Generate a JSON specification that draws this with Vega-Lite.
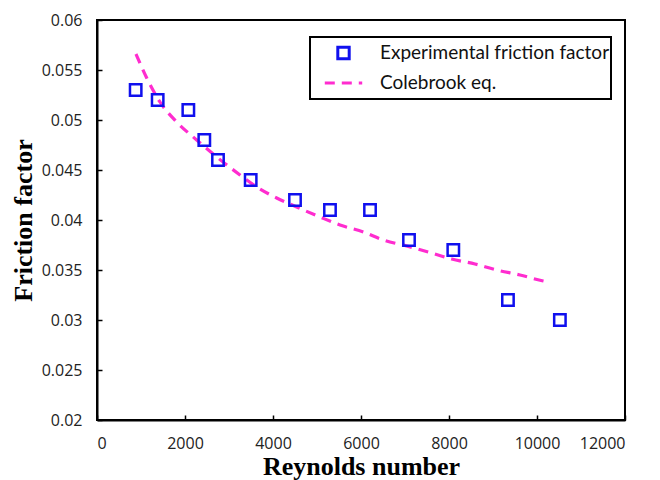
{
  "$schema": "https://vega.github.io/schema/vega-lite/v6.json",
  "width": 528,
  "height": 400,
  "autosize": {"type": "none"},
  "padding": {"left": 97, "top": 20, "right": 35, "bottom": 60},
  "background": "white",
  "config": {
    "view": {"stroke": "black", "strokeWidth": 2},
    "axis": {
      "grid": false,
      "domainColor": "black",
      "domainWidth": 2,
      "tickColor": "black",
      "tickWidth": 1.5,
      "tickSize": -5,
      "labelFont": "Open Sans",
      "labelFontSize": 16,
      "labelColor": "#222",
      "titleFont": "Liberation Serif",
      "titleFontSize": 26,
      "titleFontWeight": "bold",
      "titleColor": "black"
    },
    "legend": {
      "strokeColor": "black",
      "strokeWidth": 2,
      "fillColor": "white",
      "padding": 1,
      "labelFont": "Lato",
      "labelFontSize": 19,
      "labelColor": "#111",
      "labelLimit": 400,
      "rowPadding": 0,
      "symbolStrokeWidth": 3
    }
  },
  "datasets": {
    "exp": [
      {"Re": 879, "f": 0.053, "series": "Experimental friction factor"},
      {"Re": 1379, "f": 0.052, "series": "Experimental friction factor"},
      {"Re": 2076, "f": 0.051, "series": "Experimental friction factor"},
      {"Re": 2439, "f": 0.048, "series": "Experimental friction factor"},
      {"Re": 2750, "f": 0.046, "series": "Experimental friction factor"},
      {"Re": 3493, "f": 0.044, "series": "Experimental friction factor"},
      {"Re": 4500, "f": 0.042, "series": "Experimental friction factor"},
      {"Re": 5295, "f": 0.041, "series": "Experimental friction factor"},
      {"Re": 6205, "f": 0.041, "series": "Experimental friction factor"},
      {"Re": 7091, "f": 0.038, "series": "Experimental friction factor"},
      {"Re": 8098, "f": 0.037, "series": "Experimental friction factor"},
      {"Re": 9340, "f": 0.032, "series": "Experimental friction factor"},
      {"Re": 10520, "f": 0.030, "series": "Experimental friction factor"}
    ],
    "cole": [
      {"Re": 886, "f": 0.0566, "series": "Colebrook eq."},
      {"Re": 1130, "f": 0.0542, "series": "Colebrook eq."},
      {"Re": 1432, "f": 0.0518, "series": "Colebrook eq."},
      {"Re": 1811, "f": 0.0498, "series": "Colebrook eq."},
      {"Re": 2266, "f": 0.0480, "series": "Colebrook eq."},
      {"Re": 2750, "f": 0.0462, "series": "Colebrook eq."},
      {"Re": 3250, "f": 0.0445, "series": "Colebrook eq."},
      {"Re": 3629, "f": 0.0433, "series": "Colebrook eq."},
      {"Re": 4084, "f": 0.0422, "series": "Colebrook eq."},
      {"Re": 4538, "f": 0.0413, "series": "Colebrook eq."},
      {"Re": 5068, "f": 0.0403, "series": "Colebrook eq."},
      {"Re": 5523, "f": 0.0395, "series": "Colebrook eq."},
      {"Re": 6052, "f": 0.0388, "series": "Colebrook eq."},
      {"Re": 6507, "f": 0.0380, "series": "Colebrook eq."},
      {"Re": 7038, "f": 0.0374, "series": "Colebrook eq."},
      {"Re": 7607, "f": 0.0367, "series": "Colebrook eq."},
      {"Re": 8061, "f": 0.0361, "series": "Colebrook eq."},
      {"Re": 8591, "f": 0.0356, "series": "Colebrook eq."},
      {"Re": 9084, "f": 0.0350, "series": "Colebrook eq."},
      {"Re": 9614, "f": 0.0345, "series": "Colebrook eq."},
      {"Re": 10143, "f": 0.0339, "series": "Colebrook eq."},
      {"Re": 10257, "f": 0.0338, "series": "Colebrook eq."}
    ]
  },
  "layer": [
    {
      "data": {"name": "cole"},
      "mark": {"type": "line", "strokeWidth": 3.2, "interpolate": "monotone"},
      "encoding": {
        "x": {"field": "Re", "type": "quantitative", "scale": {"domain": [0, 12000]}},
        "y": {"field": "f", "type": "quantitative", "scale": {"domain": [0.02, 0.06], "zero": false}},
        "color": {"field": "series", "type": "nominal"},
        "strokeDash": {"field": "series", "type": "nominal",
          "scale": {"domain": ["Experimental friction factor", "Colebrook eq."], "range": [[1, 0], [10, 7]]}}
      }
    },
    {
      "data": {"name": "exp"},
      "mark": {"type": "point", "filled": false, "strokeWidth": 2.5, "opacity": 1},
      "encoding": {
        "x": {"field": "Re", "type": "quantitative",
          "scale": {"domain": [0, 12000]},
          "axis": {"values": [0, 2000, 4000, 6000, 8000, 10000, 12000], "format": "d", "labelPadding": 20, "labelFontSize": 16, "title": "Reynolds number", "titlePadding": 2}},
        "y": {"field": "f", "type": "quantitative",
          "scale": {"domain": [0.02, 0.06], "zero": false},
          "axis": {"values": [0.02, 0.025, 0.03, 0.035, 0.04, 0.045, 0.05, 0.055, 0.06], "format": ".3~f", "labelPadding": 20, "labelFontSize": 16, "title": "Friction factor", "titlePadding": 5}},
        "color": {"field": "series", "type": "nominal",
          "scale": {"domain": ["Experimental friction factor", "Colebrook eq."], "range": ["#1010ee", "#ff2ccf"]},
          "legend": {"title": null, "orient": "none", "legendX": 213, "legendY": 17, "labelFontSize": 19, "labelLimit": 400, "padding": 1, "symbolOffset": 12, "rowPadding": 0, "labelOffset": 16, "clipHeight": 30}},
        "shape": {"field": "series", "type": "nominal",
          "scale": {"domain": ["Experimental friction factor", "Colebrook eq."], "range": ["square", "stroke"]}},
        "size": {"field": "series", "type": "nominal",
          "scale": {"domain": ["Experimental friction factor", "Colebrook eq."], "range": [130, 1400]}}
      }
    }
  ]
}
